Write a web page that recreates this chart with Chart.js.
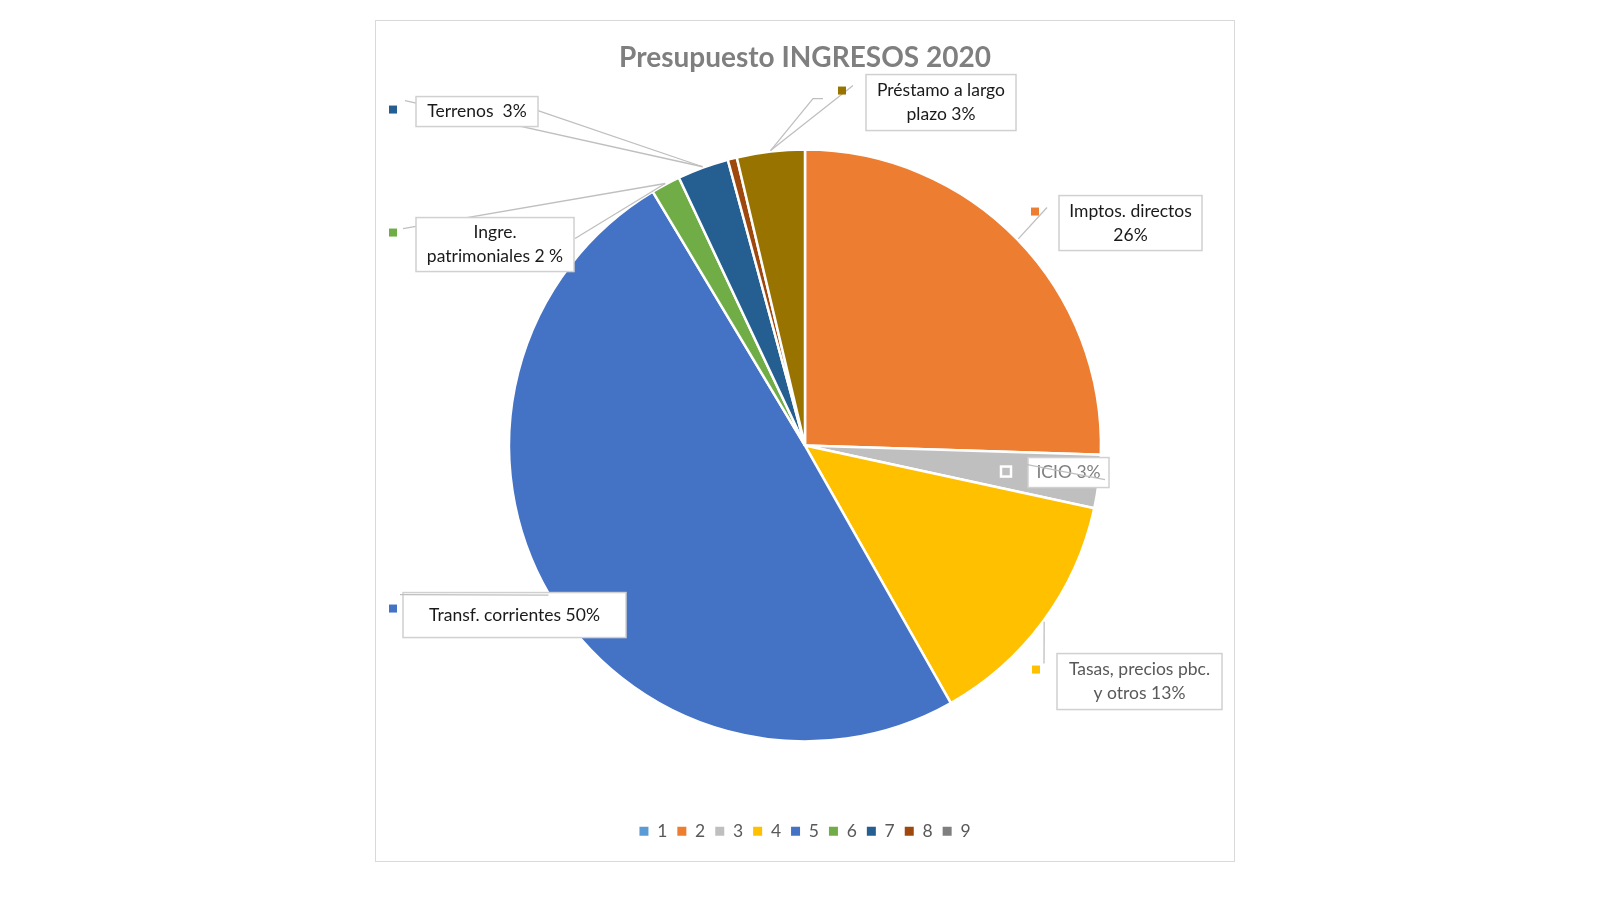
<!DOCTYPE html>
<html>
<head>
<meta charset="utf-8">
<title>Presupuesto INGRESOS 2020</title>
<script src="https://cdn.jsdelivr.net/npm/chart.js@4.4.0/dist/chart.umd.min.js"></script>
<style>
  html, body { margin: 0; padding: 0; background: #fff; }
  #wrap { position: absolute; left: 375px; top: 20px; width: 858px; height: 840px; border: 1px solid #d9d9d9; }
</style>
</head>
<body>
<div id="wrap"><canvas id="chart"></canvas></div>
<script>
// data (shares in %)
const categories = ['1', '2', '3', '4', '5', '6', '7', '8', '9', '10'];
const shares = [0, 25.5, 2.9, 13.4, 49.6, 1.6, 2.8, 0.5, 0, 3.7];
const sliceLabels = [
  null,
  ['Imptos. directos', '26%'],
  ['ICIO 3%'],
  ['Tasas, precios pbc.', 'y otros 13%'],
  ['Transf. corrientes 50%'],
  ['Ingre.', 'patrimoniales 2 %'],
  ['Terrenos  3%'],
  null,
  null,
  ['Préstamo a largo', 'plazo 3%']
];

const colors = ['#5B9BD5', '#ED7D31', '#BFBFBF', '#FFC000', '#4472C4', '#70AD47', '#255E91', '#9E480E', '#7F7F7F', '#997300'];

// where each callout sits, as offsets from the pie centre
const callouts = {
  1: { box: [254, -250, 143, 55], mark: [230, -234], leaders: [{ pts: [[242, -238]], arc: true }] },
  2: { box: [223, 12, 81, 30], mark: [201, 26], grey: '#7F7F7F', hollow: true,
       leaders: [{ pts: [[217, 18], [300, 34]], arc: false, front: true }] },
  3: { box: [252, 208, 165, 56], mark: [231, 224], grey: '#595959', leaders: [{ pts: [[239, 218]], arc: true }] },
  4: { box: [-402, 147, 223, 45], mark: [-412, 163], leaders: [{ pts: [[-405, 149]], arc: true, front: true }] },
  5: { box: [-389, -228, 158, 54], mark: [-412, -213],
       leaders: [{ pts: [[-402, -217]], arc: true }, { pts: [[-230, -207]], arc: true }] },
  6: { box: [-389, -349, 122, 30], mark: [-412, -336],
       leaders: [{ pts: [[-400, -345]], arc: true }, { pts: [[-270, -336]], arc: true }] },
  9: { box: [61, -371, 150, 56], mark: [37, -355],
       leaders: [{ pts: [[48, -360]], arc: true }, { pts: [[18, -347], [8, -347]], arc: true }] }
};

const calloutPlugin = {
  id: 'callouts',
  afterDatasetsDraw(chart) {
    const ctx = chart.ctx;
    const arcs = chart.getDatasetMeta(0).data;
    const first = arcs[0];
    const cx = first.x, cy = first.y;

    const arcPoint = (i) => {
      const a = arcs[i];
      const mid = (a.startAngle + a.endAngle) / 2;
      const r = a.outerRadius + 1;
      return [cx + Math.cos(mid) * r, cy + Math.sin(mid) * r];
    };

    const drawLeaders = (front) => {
      Object.keys(callouts).forEach(k => {
        const c = callouts[k];
        c.leaders.filter(l => !!l.front === front).forEach(l => {
          const pts = l.pts.map(p => [cx + p[0], cy + p[1]]);
          if (l.arc) pts.push(arcPoint(+k));
          ctx.save();
          ctx.strokeStyle = '#BFBFBF';
          ctx.lineWidth = 1.3;
          ctx.beginPath();
          ctx.moveTo(pts[0][0], pts[0][1]);
          for (let j = 1; j < pts.length; j++) ctx.lineTo(pts[j][0], pts[j][1]);
          ctx.stroke();
          ctx.restore();
        });
      });
    };

    drawLeaders(false);

    Object.keys(callouts).forEach(k => {
      const i = +k;
      const c = callouts[k];
      const [bx, by, bw, bh] = c.box;
      const x = cx + bx, y = cy + by;
      ctx.save();
      ctx.fillStyle = '#fff';
      ctx.strokeStyle = '#D0D0D0';
      ctx.lineWidth = 1.5;
      ctx.fillRect(x, y, bw, bh);
      ctx.strokeRect(x, y, bw, bh);

      const lines = sliceLabels[i];
      ctx.fillStyle = c.grey || '#1A1A1A';
      ctx.font = '17.5px Lato';
      ctx.textAlign = 'center';
      ctx.textBaseline = 'middle';
      const lh = 24;
      const top = y + bh / 2 - (lines.length - 1) * lh / 2;
      lines.forEach((t, j) => ctx.fillText(t, x + bw / 2, top + j * lh));

      // small legend key next to the callout
      const mx = cx + c.mark[0], my = cy + c.mark[1];
      if (c.hollow) {
        ctx.fillStyle = colors[i];
        ctx.strokeStyle = '#fff';
        ctx.lineWidth = 2.5;
        ctx.fillRect(mx - 5, my - 5, 10, 10);
        ctx.strokeRect(mx - 5, my - 5, 10, 10);
      } else {
        ctx.fillStyle = colors[i];
        ctx.fillRect(mx - 4, my - 4, 8, 8);
      }
      ctx.restore();
    });

    drawLeaders(true);
  }
};

new Chart(document.getElementById('chart'), {
  type: 'pie',
  data: {
    labels: categories,
    datasets: [{
      data: shares,
      backgroundColor: colors,
      borderColor: '#ffffff',
      borderWidth: 2.5
    }]
  },
  options: {
    responsive: true,
    maintainAspectRatio: false,
    animation: false,
    radius: 296,
    layout: { padding: { bottom: 11 } },
    plugins: {
      title: {
        display: true,
        text: 'Presupuesto INGRESOS 2020',
        color: '#7F7F7F',
        font: { family: 'Lato', size: 28, weight: 'bold' },
        padding: { top: 20, bottom: 4 }
      },
      legend: {
        position: 'bottom',
        labels: {
          boxWidth: 9,
          boxHeight: 9,
          padding: 10,
          color: '#595959',
          font: { family: 'Lato', size: 17.5 },
          generateLabels(chart) {
            const items = Chart.controllers.pie.overrides.plugins.legend.labels.generateLabels(chart);
            return items.map(it => Object.assign(it, { lineWidth: 0, strokeStyle: it.fillStyle }));
          },
          filter: (item) => item.index < 9
        }
      },
      tooltip: { enabled: false }
    }
  },
  plugins: [calloutPlugin]
});
</script>
</body>
</html>
